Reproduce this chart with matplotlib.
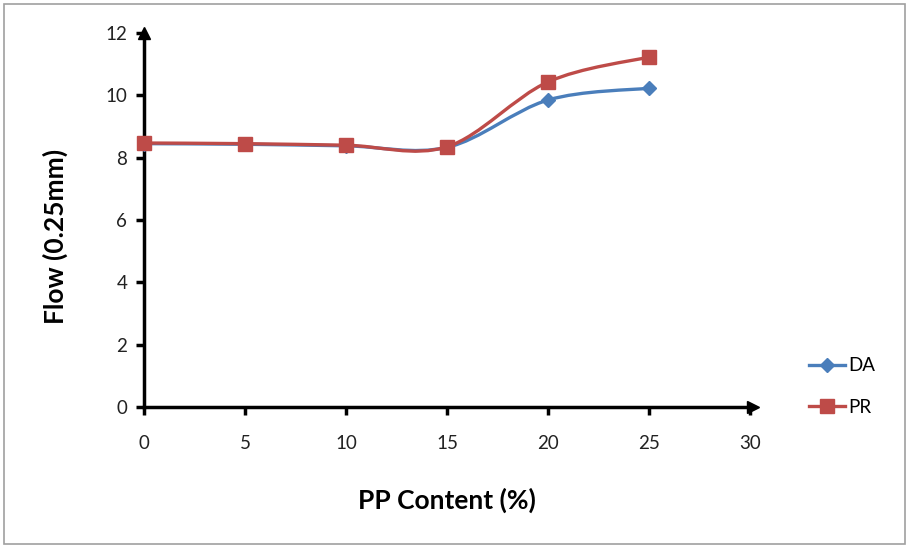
"""Flow vs PP content, two smoothed series with Excel-style axes."""

import matplotlib

matplotlib.use("Agg")
import matplotlib.pyplot as plt  # noqa: E402
from matplotlib.path import Path  # noqa: E402
from matplotlib.patches import PathPatch, Rectangle  # noqa: E402
import numpy as np  # noqa: E402

pp_content = [0, 5, 10, 15, 20, 25]
flow_da = [8.45, 8.43, 8.38, 8.33, 9.85, 10.23]
flow_pr = [8.47, 8.45, 8.40, 8.35, 10.43, 11.23]

x_ticks = [0, 5, 10, 15, 20, 25, 30]
y_ticks = [0, 2, 4, 6, 8, 10, 12]

BLUE = "#4a7ebb"
RED = "#be4b48"
FONT = ["Lato", "DejaVu Sans"]


def smooth_path(xs, ys):
    # cubic bezier through the points, control points Catmull-Rom style
    pts = np.column_stack([xs, ys]).astype(float)
    padded = np.vstack([pts[0], pts, pts[-1]])
    verts = [pts[0]]
    codes = [Path.MOVETO]
    for i in range(1, len(padded) - 2):
        p0, p1, p2, p3 = padded[i - 1], padded[i], padded[i + 1], padded[i + 2]
        c1 = p1 + (p2 - p0) / 6.0
        c2 = p2 - (p3 - p1) / 6.0
        verts += [c1, c2, p2]
        codes += [Path.CURVE4] * 3
    return Path(verts, codes)


fig = plt.figure(figsize=(9.07, 5.47), dpi=100)
fig.patch.set_facecolor("white")
fig.patches.append(Rectangle((4 / 907, 3 / 547), 901 / 907, 540 / 547, transform=fig.transFigure,
                             fill=False, edgecolor="#a0a0a0", linewidth=1.2))

ax = fig.add_axes([144 / 907, 140 / 547, 606 / 907, 374 / 547])
ax.set_xlim(0, 30)
ax.set_ylim(0, 12)

for ys, color, marker, ms, name in [
    (flow_da, BLUE, "D", 7.5, "DA"),
    (flow_pr, RED, "s", 9.5, "PR"),
]:
    ax.add_patch(PathPatch(smooth_path(pp_content, ys), facecolor="none", edgecolor=color,
                           linewidth=2.4, zorder=3, clip_on=False))
    ax.plot(pp_content, ys, linestyle="none", marker=marker, markersize=ms, color=color,
            zorder=4, clip_on=False)
    # legend proxy: line with marker
    ax.plot([], [], color=color, linewidth=2.4, marker=marker, markersize=ms, label=name)

for side in ("top", "right"):
    ax.spines[side].set_visible(False)
for side in ("left", "bottom"):
    ax.spines[side].set_linewidth(2.5)
    ax.spines[side].set_color("black")

# arrow heads on both axes
ax.plot(1.005, 0, marker=">", color="black", markersize=8, transform=ax.transAxes, clip_on=False)
ax.plot(0, 1.0, marker="^", color="black", markersize=8, transform=ax.transAxes, clip_on=False)

ax.set_xticks(x_ticks)
ax.set_yticks(y_ticks)
ax.tick_params(axis="both", direction="out", length=6, width=2.5, color="black",
               labelsize=13.5, labelcolor="#222222")
ax.tick_params(axis="x", pad=14)
ax.tick_params(axis="y", pad=6)
for lbl in ax.get_xticklabels() + ax.get_yticklabels():
    lbl.set_fontfamily(FONT)

ax.set_xlabel("PP Content (%)", fontsize=19, fontweight="bold", family=FONT, labelpad=26)
ax.set_ylabel("Flow (0.25mm)", fontsize=19, fontweight="bold", family=FONT)
ax.yaxis.set_label_coords(-0.125, 0.457)

leg = ax.legend(loc="center left", bbox_to_anchor=(1.07, 0.055), frameon=False,
                prop={"family": FONT, "size": 13.5}, handlelength=1.9, labelspacing=1.3,
                handletextpad=0.2)

fig.savefig("out.png", dpi=100, facecolor="white")
